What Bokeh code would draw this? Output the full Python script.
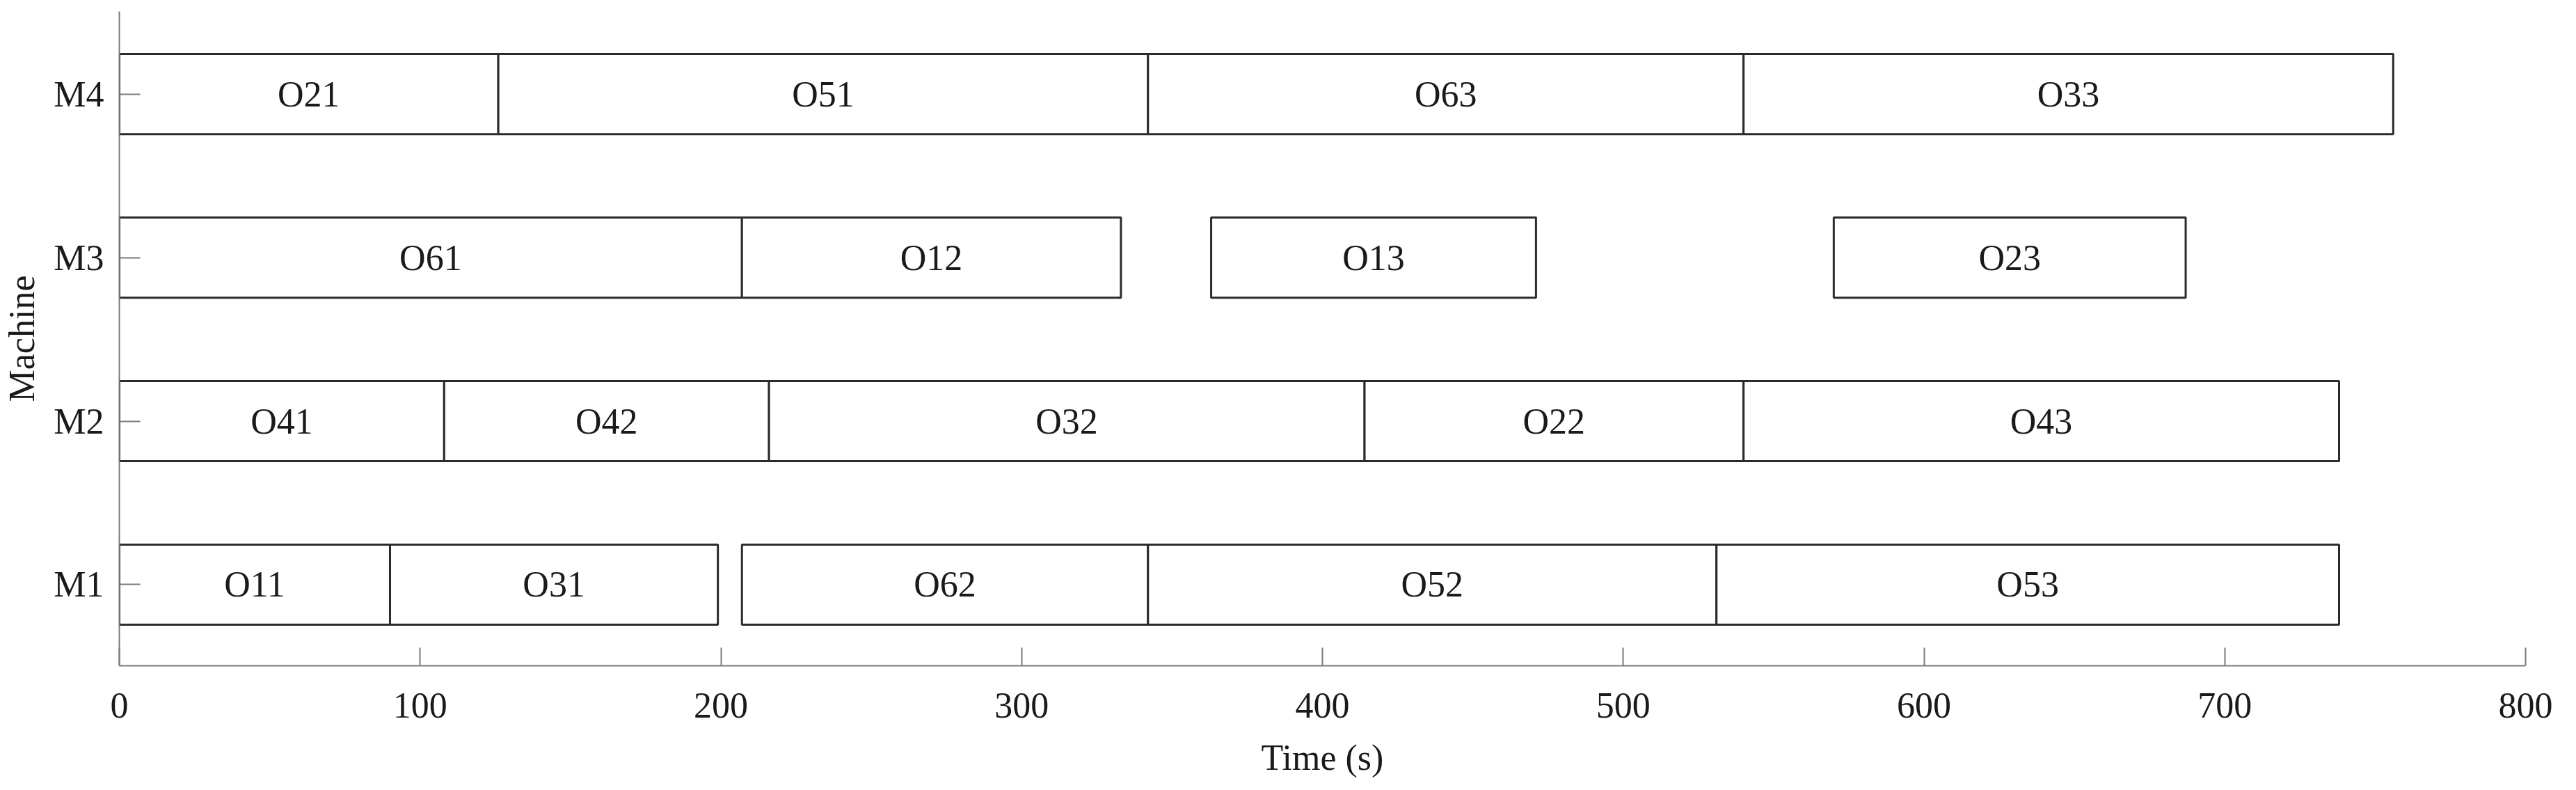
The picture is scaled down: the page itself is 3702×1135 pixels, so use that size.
from bokeh.plotting import figure
from bokeh.models import Range1d, FixedTicker, ColumnDataSource
from bokeh.core.properties import value
from bokeh.embed import file_html
from bokeh.resources import INLINE

# ---- data ----
machine_labels = ["M1", "M2", "M3", "M4"]
m1_ops = ["O11", "O31", "O62", "O52", "O53"]
m1_start = [0, 90, 207, 342, 531]
m1_end = [90, 199, 342, 531, 738]
m2_ops = ["O41", "O42", "O32", "O22", "O43"]
m2_start = [0, 108, 216, 414, 540]
m2_end = [108, 216, 414, 540, 738]
m3_ops = ["O61", "O12", "O13", "O23"]
m3_start = [0, 207, 363, 570]
m3_end = [207, 333, 471, 687]
m4_ops = ["O21", "O51", "O63", "O33"]
m4_start = [0, 126, 342, 540]
m4_end = [126, 342, 540, 756]
x_ticks = [0, 100, 200, 300, 400, 500, 600, 700, 800]

rows = [(m1_ops, m1_start, m1_end), (m2_ops, m2_start, m2_end),
        (m3_ops, m3_start, m3_end), (m4_ops, m4_start, m4_end)]
ops, lefts, rights, ys, mids = [], [], [], [], []
for i, (o, s, e) in enumerate(rows):
    for name, a, b in zip(o, s, e):
        ops.append(name); lefts.append(a); rights.append(b)
        ys.append(i + 1); mids.append((a + b) / 2)
src = ColumnDataSource(dict(op=ops, left=lefts, right=rights, y=ys, mid=mids))

FONT = "Liberation Serif"
FS = "52px"
TXT = "#1a1a1a"

p = figure(width=3686, height=1119, output_backend="svg", toolbar_location=None,
           x_range=Range1d(0, 800), y_range=Range1d(0.504, 4.505),
           min_border_left=164, min_border_right=57, min_border_top=16, min_border_bottom=159)
p.outline_line_color = None
p.grid.visible = False
p.background_fill_color = "white"

p.hbar(y="y", left="left", right="right", height=0.49, source=src,
       fill_color="white", line_color="#2b2b2b", line_width=3)
p.text(x="mid", y="y", text="op", source=src, text_align="center", text_baseline="middle",
       text_font=value(FONT), text_font_size=value(FS), text_color=TXT)

# x axis
xa = p.xaxis[0]
xa.ticker = FixedTicker(ticks=x_ticks)
xa.minor_tick_line_color = None
xa.major_tick_in = 26
xa.major_tick_out = 0
xa.major_tick_line_color = "#7a7a7a"
xa.major_tick_line_width = 2
xa.axis_line_color = "#7a7a7a"
xa.axis_line_width = 2
xa.major_label_text_font = FONT
xa.major_label_text_font_size = FS
xa.major_label_text_color = TXT
xa.major_label_standoff = 39
xa.axis_label = "Time (s)"
xa.axis_label_text_font = FONT
xa.axis_label_text_font_size = FS
xa.axis_label_text_font_style = "normal"
xa.axis_label_text_color = TXT
xa.axis_label_standoff = 26

# y axis
ya = p.yaxis[0]
ya.ticker = FixedTicker(ticks=[1, 2, 3, 4])
ya.major_label_overrides = {i + 1: m for i, m in enumerate(machine_labels)}
ya.minor_tick_line_color = None
ya.major_tick_in = 30
ya.major_tick_out = 0
ya.major_tick_line_color = "#7a7a7a"
ya.major_tick_line_width = 2
ya.axis_line_color = "#7a7a7a"
ya.axis_line_width = 2
ya.major_label_text_font = FONT
ya.major_label_text_font_size = FS
ya.major_label_text_color = TXT
ya.major_label_standoff = 22
ya.axis_label = "Machine"
ya.axis_label_text_font = FONT
ya.axis_label_text_font_size = FS
ya.axis_label_text_font_style = "normal"
ya.axis_label_text_color = TXT
ya.axis_label_standoff = 14

open("out.html", "w").write(file_html(p, INLINE))
